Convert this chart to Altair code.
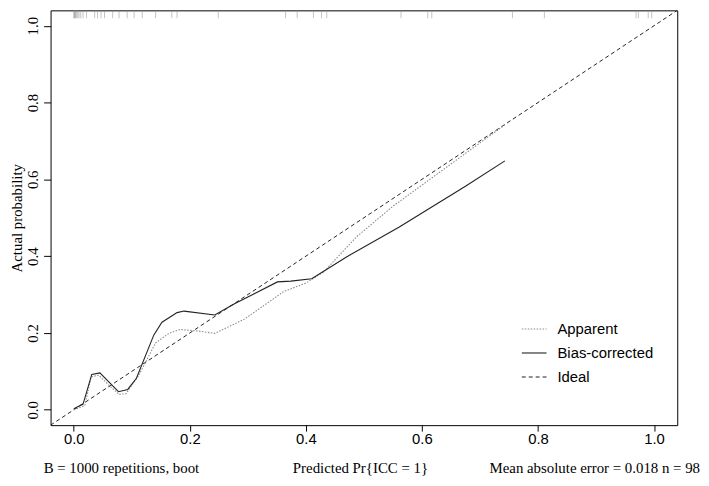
import altair as alt
import pandas as pd

# ---- data ----
app_x = [0.0, 0.019, 0.03, 0.043, 0.06, 0.078, 0.09, 0.112, 0.141, 0.164, 0.183, 0.215, 0.243,
         0.294, 0.362, 0.40, 0.43, 0.487, 0.55, 0.60, 0.65, 0.70, 0.743]
app_y = [0.0, 0.011, 0.086, 0.09, 0.065, 0.04, 0.042, 0.09, 0.174, 0.199, 0.209, 0.205, 0.199,
         0.236, 0.308, 0.33, 0.358, 0.45, 0.53, 0.585, 0.64, 0.695, 0.742]

bc_x = [0.0, 0.016, 0.031, 0.045, 0.077, 0.093, 0.108, 0.138, 0.152, 0.178, 0.19, 0.243, 0.277,
        0.351, 0.374, 0.41, 0.47, 0.561, 0.675, 0.743]
bc_y = [0.003, 0.015, 0.092, 0.096, 0.047, 0.053, 0.082, 0.195, 0.228, 0.253, 0.257, 0.247, 0.276,
        0.333, 0.335, 0.341, 0.398, 0.476, 0.582, 0.648]

ideal_x = [-0.04, 1.04]
ideal_y = [-0.04, 1.04]

rug_x = [0.0, 0.001, 0.002, 0.003, 0.005, 0.007, 0.009, 0.012, 0.016, 0.022, 0.036, 0.041, 0.047,
         0.053, 0.067, 0.078, 0.092, 0.104, 0.118, 0.141, 0.169, 0.178, 0.249, 0.365, 0.385,
         0.413, 0.427, 0.436, 0.564, 0.61, 0.617, 0.756, 0.811, 0.969, 0.973, 0.99, 0.996]

tick_values = [0.0, 0.2, 0.4, 0.6, 0.8, 1.0]
legend_labels = ["Apparent", "Bias-corrected", "Ideal"]
note_left = "B = 1000 repetitions, boot"
note_right = "Mean absolute error = 0.018 n = 98"
x_title = "Predicted Pr{ICC = 1}"
y_title = "Actual probability"

SERIF = "Liberation Serif"
SANS = "Liberation Sans"
FS = 15
W, H = 633, 419

xs = alt.Scale(domain=[-0.04, 1.04], nice=False, zero=False)
ys = alt.Scale(domain=[-0.04, 1.04], nice=False, zero=False)

x_axis = alt.Axis(values=tick_values, format=".1f", labelFont=SANS, labelFontSize=FS,
                  labelColor="black", tickColor="black", tickSize=6, labelPadding=1,
                  domain=False, grid=False, labelBaseline="top",
                  titleFont=SERIF, titleFontSize=FS, titleFontWeight="normal",
                  titleColor="black", titleX=312.5, titleY=43, titleAlign="center",
                  titleBaseline="middle")
y_axis = alt.Axis(values=tick_values, format=".1f", labelFont=SERIF, labelFontSize=FS,
                  labelColor="black", tickColor="black", tickSize=7, labelPadding=3,
                  labelAngle=270, labelAlign="center", labelBaseline="bottom",
                  domain=False, grid=False,
                  titleFont=SERIF, titleFontSize=FS, titleFontWeight="normal",
                  titleColor="black", titleAngle=270, titleX=-34, titleY=209.5,
                  titleAlign="center", titleBaseline="middle")

def xy():
    return dict(x=alt.X("x:Q", scale=xs, axis=x_axis, title=x_title),
                y=alt.Y("y:Q", scale=ys, axis=y_axis, title=y_title))

df_app = pd.DataFrame({"x": app_x, "y": app_y})
df_bc = pd.DataFrame({"x": bc_x, "y": bc_y})
df_ideal = pd.DataFrame({"x": ideal_x, "y": ideal_y})
df_rug = pd.DataFrame({"x": rug_x})
one = pd.DataFrame({"a": [0]})

ideal = alt.Chart(df_ideal).mark_line(color="#222", strokeWidth=1, strokeDash=[4, 3], clip=True).encode(**xy())
app = alt.Chart(df_app).mark_line(color="#8a8a8a", strokeWidth=1.1, strokeDash=[1.5, 1.5]).encode(**xy())
bc = alt.Chart(df_bc).mark_line(color="#222", strokeWidth=1.1).encode(**xy())

rug = alt.Chart(df_rug).mark_rule(color="#888", opacity=0.5, strokeWidth=1).encode(
    x=alt.X("x:Q", scale=xs), y=alt.value(0), y2=alt.value(8))

# legend (manual, R-style)
leg_y = [321.8, 346.1, 370.4]
leg_styles = [dict(color="#8a8a8a", strokeDash=[1.5, 1.5]), dict(color="#222"),
              dict(color="#222", strokeDash=[4, 3])]
legend_layers = []
for lab, yy, st in zip(legend_labels, leg_y, leg_styles):
    legend_layers.append(alt.Chart(one).mark_rule(strokeWidth=1.1, **st).encode(
        x=alt.value(476), x2=alt.value(501), y=alt.value(yy)))
    legend_layers.append(alt.Chart(one).mark_text(text=lab, font=SANS, fontSize=FS, align="left",
                                                  baseline="middle", color="black").encode(
        x=alt.value(512), y=alt.value(yy)))

notes = [
    alt.Chart(one).mark_text(text=note_left, font=SERIF, fontSize=FS, align="left",
                             baseline="middle", color="black").encode(x=alt.value(-7), y=alt.value(462)),
    alt.Chart(one).mark_text(text=note_right, font=SERIF, fontSize=FS, align="right",
                             baseline="middle", color="black").encode(x=alt.value(656), y=alt.value(462)),
]

chart = alt.layer(ideal, app, bc, rug, *legend_layers, *notes).properties(
    width=W, height=H,
    autosize=alt.AutoSizeParams(type="none"),
    padding={"left": 43, "top": 0, "right": 24, "bottom": 51},
    background="white",
).configure_view(stroke="black", strokeWidth=1)

chart.save("out.html", embed_options={"renderer": "svg", "actions": False})
